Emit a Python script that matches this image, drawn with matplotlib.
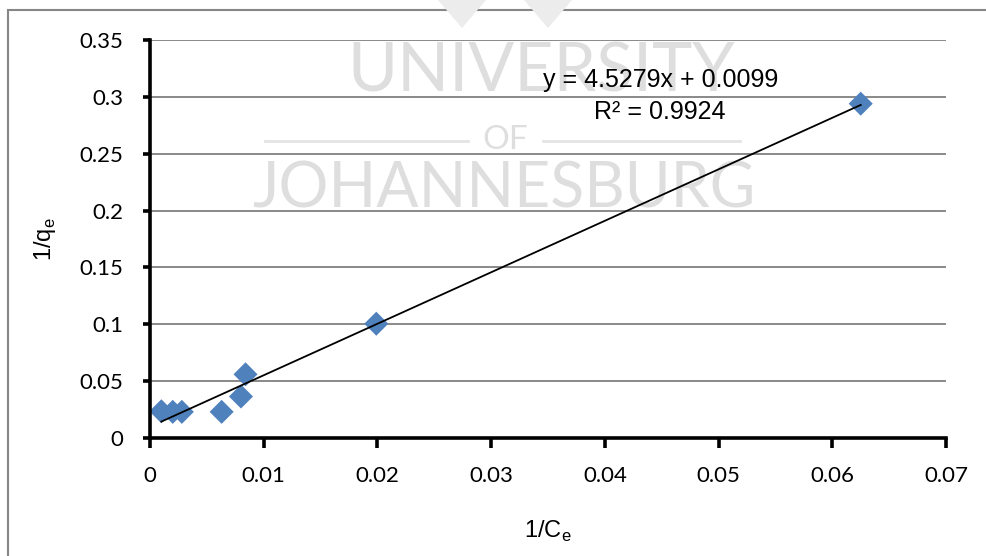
import matplotlib.pyplot as plt
import numpy as np
from matplotlib.patches import Rectangle, Polygon
from matplotlib.lines import Line2D

# Langmuir linearisation: 1/qe against 1/Ce
inv_ce = [0.0010, 0.0020, 0.0028, 0.0063, 0.0080, 0.0084, 0.0199, 0.0625]
inv_qe = [0.0235, 0.0230, 0.0230, 0.0230, 0.0365, 0.0560, 0.1005, 0.2940]
slope = 4.5279
intercept = 0.0099
r_squared = 0.9924

x_ticks = [0, 0.01, 0.02, 0.03, 0.04, 0.05, 0.06, 0.07]
x_tick_labels = ['0', '0.01', '0.02', '0.03', '0.04', '0.05', '0.06', '0.07']
y_ticks = [0, 0.05, 0.1, 0.15, 0.2, 0.25, 0.3, 0.35]
y_tick_labels = ['0', '0.05', '0.1', '0.15', '0.2', '0.25', '0.3', '0.35']

W, H = 987, 556
fig = plt.figure(figsize=(W / 100, H / 100), dpi=100)
fig.patch.set_facecolor('white')

# outer chart frame
fig.add_artist(Rectangle((8 / W, -0.5), 2.0, 0.5 + (H - 10) / H, transform=fig.transFigure,
                         fill=False, edgecolor='#868686', linewidth=1.5, zorder=0))

# faint watermark, kept underneath the axes
wm = '#dedede'
fig.text(541 / W, 1 - 73 / H, 'UNIVERSITY', fontsize=49, color=wm, ha='center', va='center',
         family='Lato', zorder=0)
fig.text(505 / W, 1 - 140 / H, 'OF', fontsize=24, color=wm, ha='center', va='center',
         family='Lato', zorder=0)
fig.add_artist(Line2D([265 / W, 468 / W], [1 - 141 / H] * 2, color='#e4e4e4', lw=2, zorder=0))
fig.add_artist(Line2D([543 / W, 740 / W], [1 - 141 / H] * 2, color='#e4e4e4', lw=2, zorder=0))
fig.text(504 / W, 1 - 189 / H, 'JOHANNESBURG', fontsize=45, color=wm, ha='center', va='center',
         family='Lato', zorder=0)
for cx in (462, 548):
    pts = [((cx - 24) / W, 1), ((cx + 24) / W, 1), (cx / W, 1 - 28 / H)]
    fig.add_artist(Polygon(pts, closed=True, transform=fig.transFigure, facecolor='#ececec',
                           edgecolor='none', zorder=0))

ax = fig.add_axes([150 / W, (H - 438) / H, (946 - 150) / W, (438 - 40) / H])
ax.set_zorder(1)
ax.patch.set_alpha(0)

ax.scatter(inv_ce, inv_qe, marker='D', s=150, color='#4f81bd', edgecolors='none', zorder=3)

xs = np.array([min(inv_ce), max(inv_ce)])
ax.plot(xs, slope * xs + intercept, color='black', linewidth=1.3, zorder=4)

ax.set_xlim(0, 0.07)
ax.set_ylim(0, 0.35)
ax.set_xticks(x_ticks)
ax.set_xticklabels(x_tick_labels)
ax.set_yticks(y_ticks)
ax.set_yticklabels(y_tick_labels)

ax.grid(axis='y', color='#898989', linewidth=1.4, zorder=1)
ax.set_axisbelow(True)
for side in ('top', 'right'):
    ax.spines[side].set_visible(False)
for side in ('left', 'bottom'):
    ax.spines[side].set_linewidth(2.6)
    ax.spines[side].set_color('black')
    ax.spines[side].set_zorder(5)

ax.tick_params(axis='y', direction='out', length=5, width=2.6, pad=14,
               labelsize=16, labelfontfamily='Lato')
ax.tick_params(axis='x', direction='out', length=7, width=2.6, pad=13,
               labelsize=16, labelfontfamily='Lato')

ax.set_xlabel(r'1/C$_\mathregular{e}$', fontsize=17, family='Liberation Sans', labelpad=24)
ax.set_ylabel(r'1/q$_\mathregular{e}$', fontsize=17, family='Liberation Sans', labelpad=16)

ax.text(0.0449, 0.315, f'y = {slope}x + {intercept}', fontsize=18, family='Liberation Sans',
        ha='center', va='center', zorder=6)
ax.text(0.0448, 0.287, f'R² = {r_squared}', fontsize=18, family='Liberation Sans',
        ha='center', va='center', zorder=6)

fig.savefig('out.png', dpi=100)
